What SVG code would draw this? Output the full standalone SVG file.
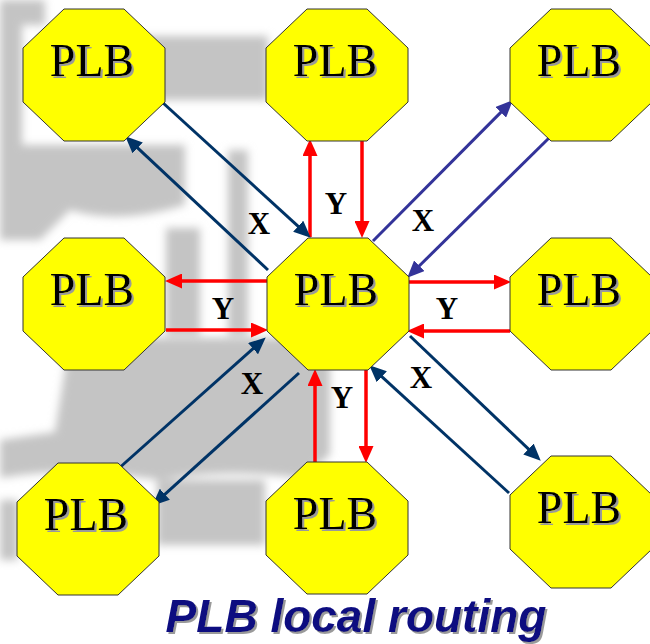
<svg xmlns="http://www.w3.org/2000/svg" width="650" height="644" viewBox="0 0 650 644">
  <defs>
    <style>
      .oct { fill: #ffff00; stroke: #333333; stroke-width: 1; }
      .lbl { font-family: "Liberation Serif", "Times New Roman", serif; font-size: 46px; text-anchor: middle; fill: #000000; filter: url(#shade); }
      .tag { font-family: "Liberation Serif", "Times New Roman", serif; font-size: 31px; font-weight: bold; fill: #000000; text-anchor: middle; }
      .red { stroke: #ff0000; stroke-width: 3.5; fill: none; marker-end: url(#headRed); }
      .navy { stroke: #003366; stroke-width: 3; fill: none; marker-end: url(#headNavy); }
      .indigo { stroke: #333399; stroke-width: 3; fill: none; marker-end: url(#headIndigo); }
      .title { font-family: "Liberation Sans", Arial, sans-serif; font-size: 46px; font-weight: bold; font-style: italic; fill: #0a0a80; text-anchor: middle; filter: url(#shade); }
    </style>
    <filter id="soft" x="-10%" y="-10%" width="120%" height="120%">
      <feGaussianBlur stdDeviation="4"/>
    </filter>
    <!-- grey offset copy under text -->
    <filter id="shade" x="-5%" y="-10%" width="115%" height="130%">
      <feOffset in="SourceAlpha" dx="2" dy="2" result="off"/>
      <feFlood flood-color="#9a9a9a"/>
      <feComposite in2="off" operator="in" result="sh"/>
      <feMerge>
        <feMergeNode in="sh"/>
        <feMergeNode in="SourceGraphic"/>
      </feMerge>
    </filter>
    <polygon id="oct" points="41,0 101,0 142,39 142,93 101,132 41,132 0,93 0,39"/>
    <marker id="headRed" markerUnits="userSpaceOnUse" markerWidth="17" markerHeight="15" refX="6" refY="7.5" orient="auto">
      <path d="M0,0 L17,7.5 L0,15 Z" fill="#ff0000"/>
    </marker>
    <marker id="headNavy" markerUnits="userSpaceOnUse" markerWidth="17" markerHeight="15" refX="6" refY="7.5" orient="auto">
      <path d="M0,0 L17,7.5 L0,15 Z" fill="#003366"/>
    </marker>
    <marker id="headIndigo" markerUnits="userSpaceOnUse" markerWidth="17" markerHeight="15" refX="6" refY="7.5" orient="auto">
      <path d="M0,0 L17,7.5 L0,15 Z" fill="#333399"/>
    </marker>
  </defs>

  <rect width="650" height="644" fill="#ffffff"/>

  <!-- faint grey emblem behind the grid -->
  <g id="backdrop" fill="#c4c4c4" filter="url(#soft)">
    <path d="M0,0 H45 V25 H22 V150 H0 Z"/>
    <path d="M140,36 H268 V100 H140 Z"/>
    <path d="M0,145 H185 V205 Q120,225 70,210 L40,240 H0 Z"/>
    <path d="M166,228 H200 V335 H166 Z"/>
    <path d="M228,150 H248 V335 H228 Z"/>
    <path d="M70,338 H300 L330,365 V455 L300,478 Q220,468 160,480 L100,472 Q50,470 0,478 V440 L55,432 Z"/>
    <path d="M157,480 H265 V545 H157 Z"/>
    <path d="M0,500 H18 V560 H0 Z"/>
  </g>

  <!-- connectors -->
  <g id="connectors">
    <!-- vertical Y links -->
    <line class="red" x1="310" y1="237" x2="310" y2="150"/>
    <line class="red" x1="362" y1="140" x2="362" y2="227"/>
    <line class="red" x1="315" y1="462" x2="315" y2="380"/>
    <line class="red" x1="366" y1="370" x2="366" y2="452"/>
    <!-- horizontal Y links -->
    <line class="red" x1="267" y1="281" x2="176" y2="281"/>
    <line class="red" x1="166" y1="330" x2="257" y2="330"/>
    <line class="red" x1="408" y1="282" x2="500" y2="282"/>
    <line class="red" x1="510" y1="331" x2="418" y2="331"/>
    <!-- diagonal X links -->
    <line class="navy" x1="162" y1="102" x2="302.6" y2="230.3"/>
    <line class="navy" x1="268" y1="270" x2="133.3" y2="143.8"/>
    <line class="navy" x1="117" y1="470" x2="257.5" y2="344.7"/>
    <line class="navy" x1="299" y1="373" x2="160.4" y2="498.3"/>
    <line class="navy" x1="410" y1="336" x2="532.8" y2="453.1"/>
    <line class="navy" x1="509" y1="493" x2="377.4" y2="372.7"/>
    <line class="indigo" x1="373" y1="241" x2="505" y2="108.1"/>
    <line class="indigo" x1="549" y1="138" x2="415.1" y2="270"/>
  </g>

  <!-- link labels -->
  <g id="labels">
    <text class="tag" x="336" y="214">Y</text>
    <text class="tag" x="259" y="234">X</text>
    <text class="tag" x="423" y="231">X</text>
    <text class="tag" x="223" y="319">Y</text>
    <text class="tag" x="447" y="319">Y</text>
    <text class="tag" x="252" y="394">X</text>
    <text class="tag" x="342" y="408">Y</text>
    <text class="tag" x="421" y="388">X</text>
  </g>

  <!-- logic blocks -->
  <g id="plb-tl" transform="translate(23,9)">
    <use href="#oct" class="oct"/>
    <text class="lbl" x="69" y="67">PLB</text>
  </g>
  <g id="plb-tm" transform="translate(266,9)">
    <use href="#oct" class="oct"/>
    <text class="lbl" x="69" y="67">PLB</text>
  </g>
  <g id="plb-tr" transform="translate(510,9)">
    <use href="#oct" class="oct"/>
    <text class="lbl" x="69" y="67">PLB</text>
  </g>
  <g id="plb-ml" transform="translate(23,238)">
    <use href="#oct" class="oct"/>
    <text class="lbl" x="69" y="67">PLB</text>
  </g>
  <g id="plb-c" transform="translate(267,238)">
    <use href="#oct" class="oct"/>
    <text class="lbl" x="69" y="67">PLB</text>
  </g>
  <g id="plb-mr" transform="translate(510,238)">
    <use href="#oct" class="oct"/>
    <text class="lbl" x="69" y="67">PLB</text>
  </g>
  <g id="plb-bl" transform="translate(17,463)">
    <use href="#oct" class="oct"/>
    <text class="lbl" x="69" y="67">PLB</text>
  </g>
  <g id="plb-bm" transform="translate(266,462)">
    <use href="#oct" class="oct"/>
    <text class="lbl" x="69" y="67">PLB</text>
  </g>
  <g id="plb-br" transform="translate(510,456)">
    <use href="#oct" class="oct"/>
    <text class="lbl" x="69" y="67">PLB</text>
  </g>

  <!-- caption -->
  <g id="caption">
    <text class="title" x="356" y="632">PLB local routing</text>
  </g>
</svg>
